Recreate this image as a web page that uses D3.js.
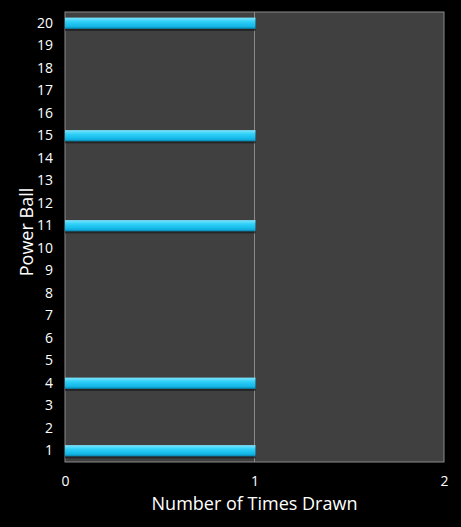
<!DOCTYPE html>
<html>
<head>
<meta charset="utf-8">
<script src="https://cdn.jsdelivr.net/npm/d3@7"></script>
<style>
  html, body { margin: 0; padding: 0; background: #000; }
  text { font-family: "Open Sans", "Noto Sans", sans-serif; fill: #fff; }
</style>
</head>
<body>
<div id="chart"></div>
<script>
// power ball numbers and how often each was drawn
const balls = d3.range(1, 21);
const timesDrawn = [1, 0, 0, 1, 0, 0, 0, 0, 0, 0, 1, 0, 0, 0, 1, 0, 0, 0, 0, 1];
const xTicks = [0, 1, 2];

const width = 461, height = 527;
const margin = { top: 12, right: 17, bottom: 65, left: 65 };

const svg = d3.select("#chart").append("svg")
  .attr("width", width)
  .attr("height", height);

const defs = svg.append("defs");
const grad = defs.append("linearGradient")
  .attr("id", "barGrad")
  .attr("x1", 0).attr("y1", 0).attr("x2", 0).attr("y2", 1);
grad.append("stop").attr("offset", "0%").attr("stop-color", "#7fe6ff");
grad.append("stop").attr("offset", "35%").attr("stop-color", "#2fd0f8");
grad.append("stop").attr("offset", "80%").attr("stop-color", "#12b6e6");
grad.append("stop").attr("offset", "100%").attr("stop-color", "#0a7fa8");

const x = d3.scaleLinear()
  .domain([0, 2])
  .range([margin.left, width - margin.right]);

const y = d3.scaleBand()
  .domain(balls.slice().reverse())
  .range([margin.top, height - margin.bottom])
  .paddingInner(0.5)
  .paddingOuter(0.25);

// plot background
svg.append("rect")
  .attr("x", x(0))
  .attr("y", margin.top)
  .attr("width", x(2) - x(0))
  .attr("height", height - margin.bottom - margin.top)
  .attr("fill", "#404040")
  .attr("stroke", "#8a8a8a")
  .attr("stroke-width", 1);

// vertical gridline
svg.append("g").selectAll("line")
  .data(xTicks.slice(1, -1))
  .join("line")
  .attr("x1", d => x(d)).attr("x2", d => x(d))
  .attr("y1", margin.top).attr("y2", height - margin.bottom)
  .attr("stroke", "#8a8a8a")
  .attr("stroke-width", 1);

const data = balls.map((b, i) => ({ ball: b, count: timesDrawn[i] }));
const bars = svg.append("g").selectAll("g")
  .data(data.filter(d => d.count > 0))
  .join("g");

// shadow under bars
bars.append("rect")
  .attr("x", x(0))
  .attr("y", d => y(d.ball) + 2)
  .attr("width", d => x(d.count) - x(0) + 1)
  .attr("height", y.bandwidth())
  .attr("fill", "#1a1a1a")
  .attr("opacity", 0.7);

bars.append("rect")
  .attr("x", x(0))
  .attr("y", d => y(d.ball))
  .attr("width", d => x(d.count) - x(0) + 1)
  .attr("height", y.bandwidth())
  .attr("fill", "url(#barGrad)");

// y axis labels
const yAxis = svg.append("g")
  .attr("transform", `translate(${x(0)},0)`)
  .call(d3.axisLeft(y).tickSize(0).tickPadding(12));
yAxis.select(".domain").remove();
yAxis.selectAll("text").style("font-size", "14px").attr("fill", "#fff");

// x axis labels
const xAxis = svg.append("g")
  .attr("transform", `translate(0,${height - margin.bottom})`)
  .call(d3.axisBottom(x).tickValues(xTicks).tickFormat(d3.format("d")).tickSize(0).tickPadding(14));
xAxis.select(".domain").remove();
xAxis.selectAll("text").style("font-size", "14px").attr("fill", "#fff");

svg.append("text")
  .attr("x", (x(0) + x(2)) / 2)
  .attr("y", 510)
  .attr("text-anchor", "middle")
  .style("font-size", "18px")
  .text("Number of Times Drawn");

svg.append("text")
  .attr("transform", `translate(33,232) rotate(-90)`)
  .attr("text-anchor", "middle")
  .style("font-size", "18px")
  .text("Power Ball");
</script>
</body>
</html>
